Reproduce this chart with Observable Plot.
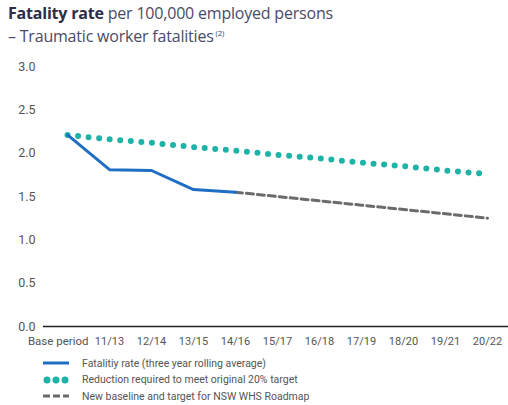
<!DOCTYPE html>
<html><head><meta charset="utf-8">
<script src="https://cdn.jsdelivr.net/npm/d3@7"></script>
<script src="https://cdn.jsdelivr.net/npm/@observablehq/plot@0.6"></script>
<style>
body{margin:0;background:#fff;font-family:"Open Sans",sans-serif;}
#wrap{width:508px;height:405px;position:relative;overflow:hidden;}
#title{position:absolute;left:8px;top:3px;font-size:16px;line-height:20px;color:#4a4a68;letter-spacing:-0.2px;}
#title b{color:#2d2d4a;font-weight:700;}
#title sup{font-size:8px;}
#chart{position:absolute;left:0;top:55px;}
#legend{position:absolute;left:43px;top:355px;font-family:"Liberation Sans Narrow","Roboto",sans-serif;font-size:10.5px;color:#555;}
.row{display:flex;align-items:center;height:16.5px;}
.row svg{margin-right:13px;}
</style></head><body>
<div id="wrap">
<div id="title"><b>Fatality rate</b> per 100,000 employed persons<br>– Traumatic worker fatalities<sup> (2)</sup></div>
<div id="chart"></div>
<div id="legend"></div>
</div>
<script>
const periods = ["Base period","11/13","12/14","13/15","14/16","15/17","16/18","17/19","18/20","19/21","20/22"];
const actual = [2.21,1.81,1.80,1.58,1.55];
const target20 = [2.21,2.16,2.12,2.07,2.03,1.98,1.94,1.89,1.85,1.80,1.76];
const newBaselinePeriods = ["14/16","15/17","16/18","17/19","18/20","19/21","20/22"];
const newBaseline = [1.55,1.50,1.45,1.40,1.35,1.30,1.25];
const yTicks = [0,0.5,1,1.5,2,2.5,3];
const legendLabels = ["Fatalitiy rate (three year rolling average)","Reduction required to meet original 20% target","New baseline and target for NSW WHS Roadmap"];

const aData = actual.map((v,i)=>({p:periods[i],v}));
const tData = target20.map((v,i)=>({p:periods[i],v}));
const nData = newBaseline.map((v,i)=>({p:newBaselinePeriods[i],v}));

const blue="#1f6ec4", teal="#1db3a6", gray="#6b6b6b";

const plot = Plot.plot({
  width:508, height:290,
  marginLeft:64, marginRight:18, marginTop:11, marginBottom:19,
  style:{fontFamily:'"Liberation Sans Narrow","Roboto",sans-serif', fontSize:"11px", color:"#555", overflow:"visible"},
  x:{type:"point", domain:periods, padding:0},
  y:{domain:[0,3]},
  marks:[
    Plot.axisY({ticks:yTicks, tickSize:0, tickPadding:29, tickFormat:d=>d.toFixed(1), fontSize:12.5, label:null}),
    Plot.axisX({ticks:periods.slice(1), tickSize:0, tickPadding:11, label:null}),
    Plot.text([periods[0]], {x:d=>d, y:()=>0, textAnchor:"end", dx:21, dy:15, fill:"#555", fontSize:11.5}),
    Plot.ruleY([0], {stroke:"#222", strokeWidth:1.5, insetLeft:-21, insetRight:-18}),
    Plot.line(tData, {x:"p", y:"v", stroke:teal, strokeWidth:6, strokeLinecap:"round", strokeDasharray:"0 10.6"}),
    Plot.line(nData, {x:"p", y:"v", stroke:gray, strokeWidth:3, strokeDasharray:"7 4"}),
    Plot.line(aData, {x:"p", y:"v", stroke:blue, strokeWidth:3})
  ]
});
document.getElementById("chart").appendChild(plot);

const sw = [
  `<svg width="26" height="8"><line x1="0" y1="4" x2="26" y2="4" stroke="${blue}" stroke-width="3"/></svg>`,
  `<svg width="26" height="8"><line x1="4" y1="4" x2="23" y2="4" stroke="${teal}" stroke-width="7" stroke-linecap="round" stroke-dasharray="0 9"/></svg>`,
  `<svg width="26" height="8"><line x1="0" y1="4" x2="26" y2="4" stroke="${gray}" stroke-width="3" stroke-dasharray="7 3"/></svg>`
];
document.getElementById("legend").innerHTML = legendLabels.map((l,i)=>`<div class="row">${sw[i]}<span>${l}</span></div>`).join("");
</script>
</body></html>
